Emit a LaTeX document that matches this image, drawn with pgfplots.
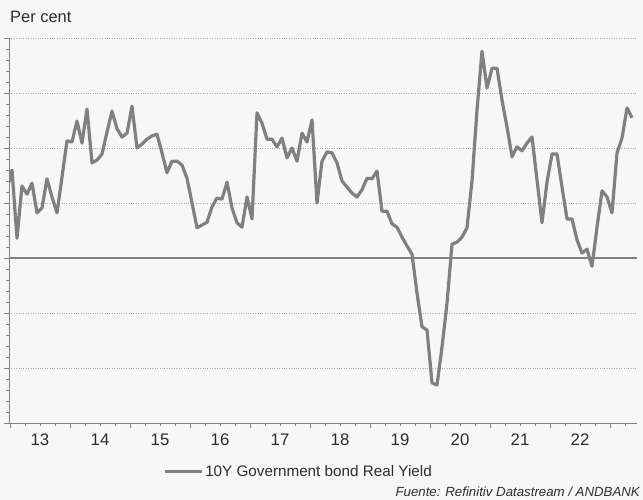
\documentclass[border=0pt]{standalone}
\usepackage{fontspec}
\setmainfont{Liberation Sans}
\usepackage{pgfplots}
\pgfplotsset{compat=1.18}
\definecolor{bg}{RGB}{247,247,247}
\definecolor{ln}{RGB}{128,128,128}
\definecolor{txt}{RGB}{45,45,45}
\definecolor{gridc}{RGB}{170,170,170}
\begin{document}
\begin{tikzpicture}[x=1bp,y=1bp]
\fill[bg] (0,0) rectangle (643,500);
\useasboundingbox (0,0) rectangle (643,500);
\node[anchor=base west,inner sep=0pt,text=txt,font=\fontsize{16.5}{18}\selectfont] at (10,477.5) {Per cent};
\node[anchor=base east,inner sep=0pt,text=txt,font=\fontsize{13.3}{15}\selectfont\itshape] at (640,3) {Fuente: Refinitiv Datastream / ANDBANK};
\begin{axis}[
  at={(9bp,77bp)}, anchor=south west,
  width=628bp, height=385bp, scale only axis,
  xmin=-0.6, xmax=125, ymin=-3, ymax=4,
  axis lines*=left,
  axis line style={draw=ln, line width=0.9bp},
  tick align=outside,
  tick style={draw=ln, line width=0.7bp},
  major tick length=5bp, minor tick length=3bp,
  xtick={-0.4,11.6,...,119.6}, xticklabels={},
  minor xtick={-0.4,2.6,...,123},
  extra x ticks={5.6,17.6,...,113.6},
  extra x tick labels={13,14,15,16,17,18,19,20,21,22},
  extra x tick style={major tick length=0pt},
  ytick={-3,...,4}, yticklabels={},
  minor y tick num=4,
  ymajorgrids,
  grid style={gridc, dotted, line width=0.6bp},
  extra y ticks={0}, extra y tick labels={},
  extra y tick style={grid style={ln, solid, line width=1.2bp}},
  ticklabel style={text=txt, font=\fontsize{16.8}{18}\selectfont},
  xticklabel style={yshift=-7bp},
  legend style={at={(0.245,-0.127)}, anchor=west, draw=none, fill=none, inner sep=0pt,
    font=\fontsize{15.3}{17}\selectfont, text=txt},
  legend image code/.code={\draw[line width=3.2bp,ln] (0bp,0bp) -- (37bp,0bp);},
]
\addplot[ln, line width=3.2bp, line join=round, no marks] coordinates {
(-1,1.24)(0,1.60)(1,0.36)(2,1.31)(3,1.16)(4,1.36)(5,0.82)(6,0.91)(7,1.44)(8,1.11)(9,0.82)
(10,1.47)(11,2.13)(12,2.11)(13,2.49)(14,2.09)(15,2.71)(16,1.73)(17,1.78)(18,1.89)(19,2.29)
(20,2.67)(21,2.35)(22,2.20)(23,2.27)(24,2.76)(25,2.00)(26,2.07)(27,2.16)(28,2.22)(29,2.25)
(30,1.91)(31,1.55)(32,1.76)(33,1.76)(34,1.69)(35,1.45)(36,1.00)(37,0.55)(38,0.60)(39,0.65)
(40,0.93)(41,1.09)(42,1.07)(43,1.38)(44,0.91)(45,0.64)(46,0.56)(47,1.11)(48,0.71)(49,2.64)
(50,2.45)(51,2.16)(52,2.16)(53,2.02)(54,2.18)(55,1.82)(56,2.00)(57,1.76)(58,2.27)(59,2.11)
(60,2.51)(61,1.00)(62,1.76)(63,1.93)(64,1.91)(65,1.73)(66,1.40)(67,1.29)(68,1.18)(69,1.11)
(70,1.24)(71,1.45)(72,1.44)(73,1.58)(74,0.85)(75,0.85)(76,0.62)(77,0.56)(78,0.38)(79,0.22)
(80,0.07)(81,-0.64)(82,-1.25)(83,-1.31)(84,-2.27)(85,-2.31)(86,-1.62)(87,-0.82)(88,0.25)(89,0.29)
(90,0.38)(91,0.55)(92,1.40)(93,2.69)(94,3.76)(95,3.09)(96,3.45)(97,3.45)(98,2.87)(99,2.38)
(100,1.84)(101,2.02)(102,1.95)(103,2.09)(104,2.20)(105,1.42)(106,0.64)(107,1.38)(108,1.89)(109,1.89)
(110,1.29)(111,0.71)(112,0.71)(113,0.33)(114,0.09)(115,0.16)(116,-0.15)(117,0.56)(118,1.22)(119,1.11)
(120,0.82)(121,1.91)(122,2.18)(123,2.73)(124,2.55)
};
\addlegendentry{10Y Government bond Real Yield}
\end{axis}
\end{tikzpicture}
\end{document}
